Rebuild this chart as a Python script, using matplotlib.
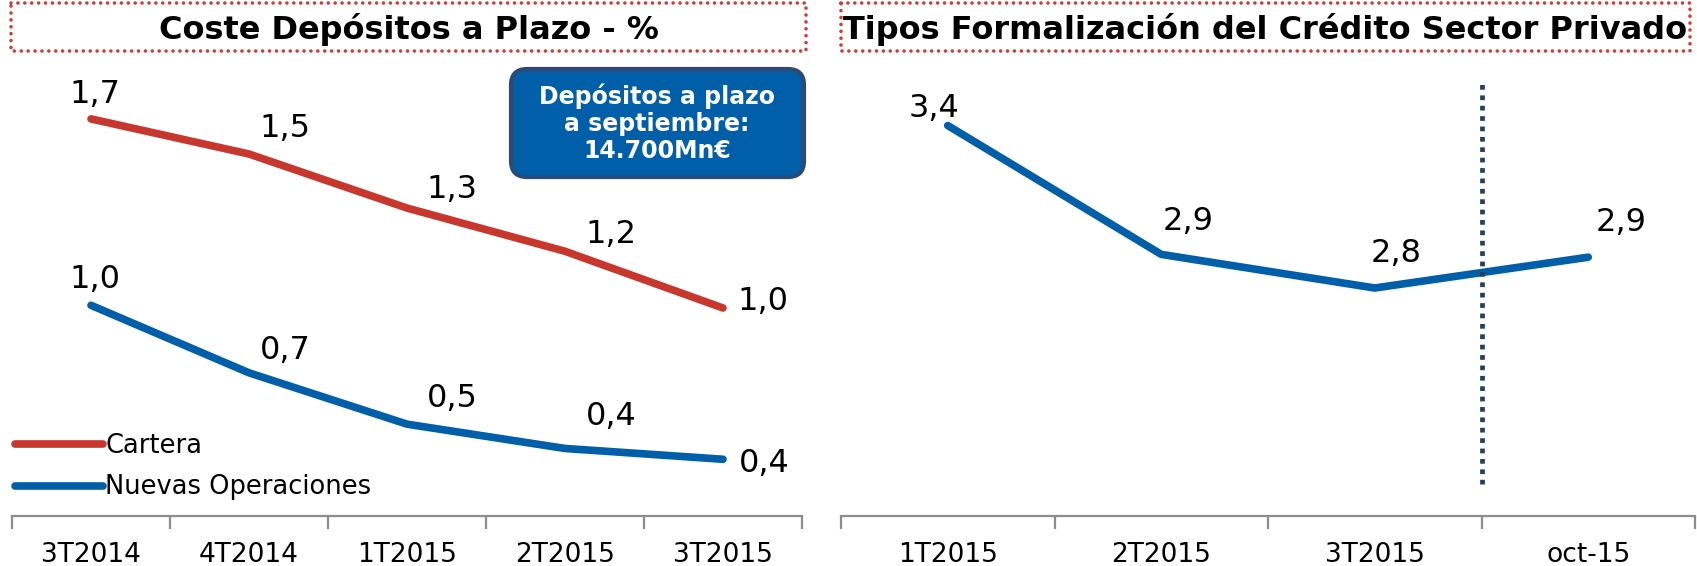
import numpy as np
import matplotlib
matplotlib.use("Agg")
import matplotlib.pyplot as plt
from matplotlib.patches import Rectangle, FancyBboxPatch

plt.rcParams['font.family'] = ['DejaVu Sans']

# left chart: Coste Depositos a Plazo (%)
quarters_left = ['3T2014', '4T2014', '1T2015', '2T2015', '3T2015']
cartera = [1.66, 1.53, 1.33, 1.17, 0.96]
nuevas = [0.97, 0.72, 0.53, 0.44, 0.40]

# right chart: Tipos Formalizacion del Credito Sector Privado
quarters_right = ['1T2015', '2T2015', '3T2015', 'oct-15']
tipos = [3.38, 2.92, 2.80, 2.91]

RED = '#C8372D'
BLUE = '#005FA8'
NAVY = '#243F60'
GREY = '#8C8C8C'

W, H = 1697, 566
fig = plt.figure(figsize=(W / 100, H / 100), dpi=100)


def px_axes(x0, x1, ytop, ybot):
    return fig.add_axes([x0 / W, (H - ybot) / H, (x1 - x0) / W, (ybot - ytop) / H])


def style_axis(ax, labels):
    n = len(labels)
    ax.set_xlim(-0.5, n - 0.5)
    for s in ['left', 'right', 'top']:
        ax.spines[s].set_visible(False)
    ax.spines['bottom'].set_color(GREY)
    ax.spines['bottom'].set_linewidth(1.6)
    ax.set_yticks([])
    ax.set_xticks(range(n))
    ax.set_xticklabels(labels, fontsize=19)
    ax.set_xticks(np.arange(-0.5, n), minor=True)
    ax.tick_params(axis='x', which='major', length=0, pad=19)
    ax.tick_params(axis='x', which='minor', length=9, width=1.6, color=GREY)


def label_points(ax, vals, offsets):
    for i, v in enumerate(vals):
        dx, dy, ha = offsets[i]
        ax.annotate(f'{v:.1f}'.replace('.', ','), (i, v), xytext=(dx, dy),
                    textcoords='offset pixels', ha=ha, va='center', fontsize=23)


# ---- left
ax1 = px_axes(12, 802, 60, 516)
x1 = np.arange(len(quarters_left))
ax1.plot(x1, cartera, color=RED, lw=5.5, solid_capstyle='round', label='Cartera')
ax1.plot(x1, nuevas, color=BLUE, lw=5.5, solid_capstyle='round', label='Nuevas Operaciones')
ax1.set_ylim(0.19, 1.878)
style_axis(ax1, quarters_left)
label_points(ax1, cartera, [(4, 24, 'center'), (36, 26, 'center'), (45, 19, 'center'),
                            (46, 17, 'center'), (14, 6, 'left')])
label_points(ax1, nuevas, [(4, 26, 'center'), (36, 22, 'center'), (45, 26, 'center'),
                           (46, 32, 'center'), (16, -4, 'left')])
ax1.legend(loc='lower left', bbox_to_anchor=(0.004, 0.034), frameon=False,
           fontsize=18.5, handlelength=3.4, handletextpad=0.1, labelspacing=0.6,
           borderpad=0, borderaxespad=0)

# ---- right
ax2 = px_axes(841, 1695, 60, 516)
x2 = np.arange(len(quarters_right))
ax2.plot(x2, tipos, color=BLUE, lw=5.5, solid_capstyle='round')
ax2.set_ylim(1.986, 3.614)
style_axis(ax2, quarters_right)
label_points(ax2, tipos, [(-14, 17, 'center'), (27, 33, 'center'),
                          (21, 35, 'center'), (33, 35, 'center')])
ax2.axvline(2.5, ymin=0.07, ymax=0.955, color=NAVY, lw=3.4,
            linestyle=(0, (1, 1.2)))

# ---- overlay for titles and note box (pixel coordinates)
ov = fig.add_axes([0, 0, 1, 1])
ov.set_xlim(0, W)
ov.set_ylim(H, 0)
ov.axis('off')

for (x0, x1_, title) in [(11, 806, 'Coste Depósitos a Plazo - %'),
                         (841, 1690, 'Tipos Formalización del Crédito Sector Privado')]:
    r = Rectangle((x0, 3), x1_ - x0, 48, fill=False, edgecolor='#D33B33', lw=2.6,
                  linestyle=(0, (0.01, 1.9)), capstyle='round')
    ov.add_patch(r)
    ov.text((x0 + x1_) / 2, 29, title, ha='center', va='center', fontsize=23,
            fontweight='bold')

box = FancyBboxPatch((511, 69), 293, 108, boxstyle='round,pad=0,rounding_size=16',
                     facecolor='#005FA8', edgecolor='#2A4A78', lw=3)
ov.add_patch(box)
ov.text(657, 123, 'Depósitos a plazo\na septiembre:\n14.700Mn€', ha='center',
        va='center', color='white', fontsize=17, fontweight='bold', linespacing=1.15)

fig.savefig('out.png', dpi=100)
